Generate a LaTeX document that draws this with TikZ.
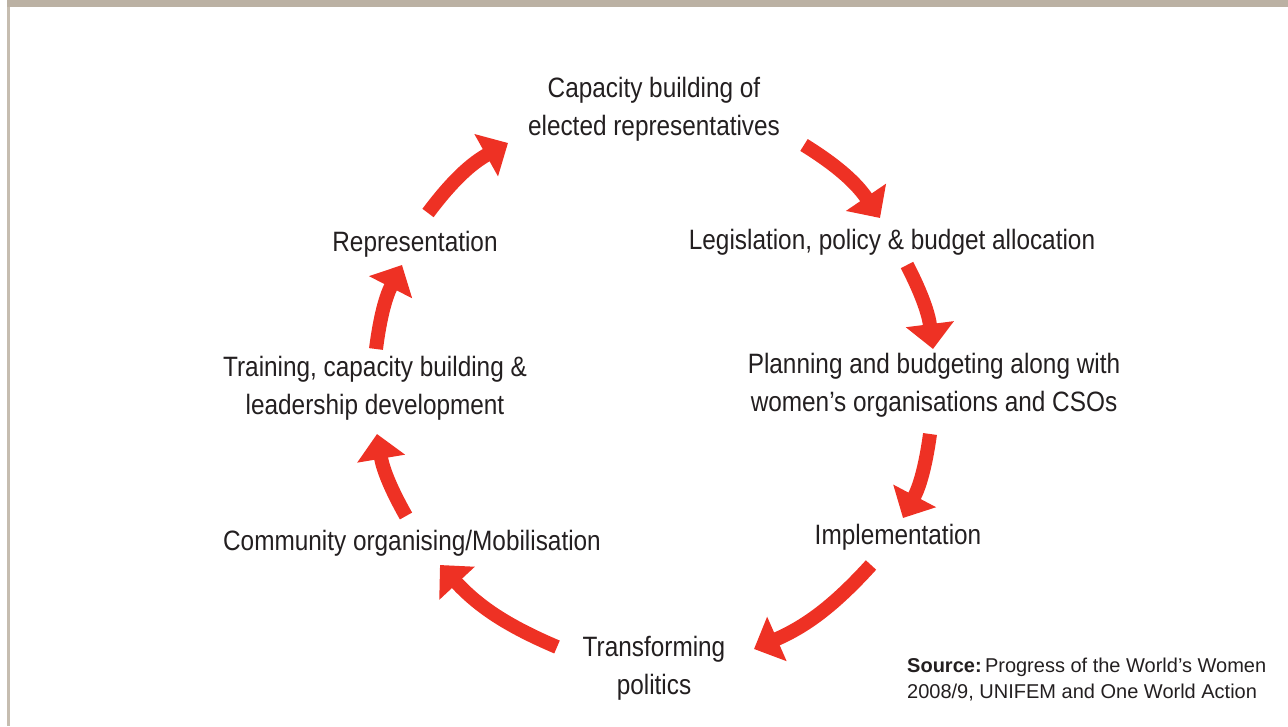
\documentclass[tikz,border=0pt]{standalone}
\usepackage{fontspec}
\setmainfont{Liberation Sans}[FakeStretch=0.87]
\newfontfamily\srcfont{Liberation Sans}[FakeStretch=1.0]
\usetikzlibrary{arrows.meta}
\definecolor{arrred}{HTML}{EE3124}
\definecolor{txt}{HTML}{231F20}
\definecolor{band}{HTML}{BBB1A3}
\definecolor{edge}{HTML}{C6BDB0}
\begin{document}
\begin{tikzpicture}[x=1pt,y=1pt,
  lbl/.style={text=txt, font=\fontsize{28}{38}\selectfont, align=center, inner sep=0pt},
  srcstyle/.style={text=txt, font=\srcfont\fontsize{20}{26}\selectfont, align=left, inner sep=0pt, anchor=west},
  cyc/.style={draw=arrred, line width=14pt, -{Triangle[width=47pt,length=25pt]}},
]
\useasboundingbox (0,0) rectangle (1288,726);
\fill[band] (7,718.5) rectangle (1288,726);
\fill[edge] (7,0) rectangle (10,718.5);

\node[lbl] (cap) at (654,617) {Capacity building of\\elected representatives};
\node[lbl] (leg) at (892,484) {Legislation, policy \& budget allocation};
\node[lbl] (plan) at (934,341) {Planning and budgeting along with\\women’s organisations and CSOs};
\node[lbl] (impl) at (898,189) {Implementation};
\node[lbl] (trans) at (654,58) {Transforming\\politics};
\node[lbl] (comm) at (412,183) {Community organising/Mobilisation};
\node[lbl] (train) at (375,338) {Training, capacity building \&\\leadership development};
\node[lbl] (rep) at (415,482) {Representation};
\node[srcstyle] (src) at (907,46) {\textbf{Source:}\,Progress of the World’s Women\\2008/9, UNIFEM and One World Action};

\coordinate (a1s) at (804,581); \coordinate (a1e) at (880,508);
\coordinate (a2s) at (907,461); \coordinate (a2e) at (933,377);
\coordinate (a3s) at (930,292); \coordinate (a3e) at (903,208);
\coordinate (a4s) at (871,161); \coordinate (a4e) at (754,77);
\coordinate (a5s) at (557,79);  \coordinate (a5e) at (440,161);
\coordinate (a6s) at (406,210); \coordinate (a6e) at (377,292);
\coordinate (a7s) at (376,377); \coordinate (a7e) at (402,461);
\coordinate (a8s) at (428,513); \coordinate (a8e) at (508,583);

\draw[cyc] (a1s) to[bend left=12] (a1e);
\draw[cyc] (a2s) to[bend left=10] (a2e);
\draw[cyc] (a3s) to[bend left=10] (a3e);
\draw[cyc] (a4s) to[bend left=12] (a4e);
\draw[cyc] (a5s) to[bend left=12] (a5e);
\draw[cyc] (a6s) to[bend left=10] (a6e);
\draw[cyc] (a7s) to[bend left=10] (a7e);
\draw[cyc] (a8s) to[bend left=12] (a8e);
\end{tikzpicture}
\end{document}
